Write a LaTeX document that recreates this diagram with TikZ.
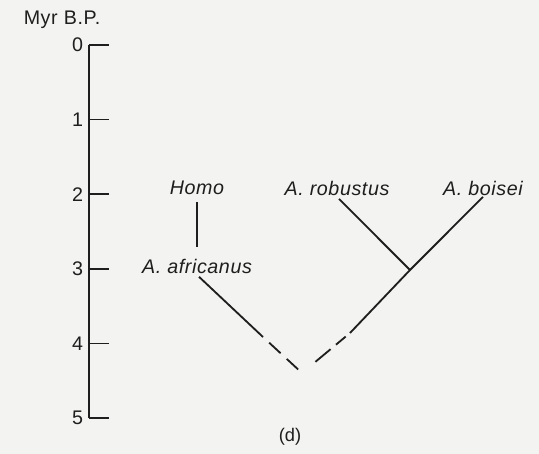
\documentclass[tikz,border=0pt]{standalone}
\usepackage{fontspec}
\setmainfont{Liberation Sans}
\usepackage{xcolor}
\usepackage{tikz}
\definecolor{paper}{HTML}{F3F3F1}
\definecolor{inkgray}{HTML}{1E1E1E}
\newfontfamily\taxonfont[LetterSpace=3]{Liberation Sans}
\tikzset{
  taxon/.style={font=\taxonfont\fontsize{14}{16}\selectfont\itshape, text=inkgray, inner sep=1pt},
  agelabel/.style={font=\fontsize{14}{16}\selectfont, text=inkgray, anchor=east, inner sep=1pt},
  branch/.style={draw=inkgray, line width=1.3pt},
  guessed/.style={branch, dash pattern=on 11pt off 6pt, dash phase=11pt},
  guessedright/.style={branch, dash pattern=on 0pt off 4pt on 9pt off 5pt on 14pt off 30pt}
}

\begin{document}
\begin{tikzpicture}
    % page and scan background
    \fill[paper] (0,0) rectangle (13.475,-11.35);
    \useasboundingbox (0,0) rectangle (13.475,-11.35);

    % time axis
    \node[font=\taxonfont\fontsize{14}{16}\selectfont, text=inkgray] (unit) at (1.55,-0.5) {Myr B.P.};
    \coordinate (top) at (2.225,-1.125);
    \coordinate (bottom) at (2.225,-10.45);
    \draw[draw=inkgray, line width=1.4pt] (top) -- (bottom);
    \foreach \age in {0,...,5} {
      \coordinate (tick\age) at (2.225,-1.125-1.865*\age);
      \draw[draw=inkgray, line width=1.1pt] (tick\age) -- ++(0.5,0);
      \node[agelabel] (age\age) at ([xshift=-3pt]tick\age) {\age};
    }

    % tree
    \node[taxon] (homo) at (4.925,-4.7) {Homo};
    \node[taxon] (africanus) at (4.925,-6.65) {A. africanus};
    \node[taxon] (robustus) at (8.425,-4.7) {A. robustus};
    \node[taxon] (boisei) at (12.075,-4.7) {A. boisei};
    \coordinate (split) at (10.25,-6.75);
    \coordinate (root) at (7.55,-9.325);
    \coordinate (leftgap) at (6.575,-8.425);
    \coordinate (rightgap) at (8.75,-8.325);

    \draw[branch, shorten <=4pt, shorten >=7pt] (homo.south) -- (africanus.north);
    \draw[branch, shorten <=2pt] (africanus.south) -- (leftgap);
    \draw[guessed] (leftgap) -- (root);
    \draw[branch, shorten <=2pt] (robustus.south) -- (split);
    \draw[branch] (boisei.south) -- (split) -- (rightgap);
    \draw[guessedright] (rightgap) -- (root);

    \node[font=\fontsize{13}{15}\selectfont, text=inkgray] (panel) at (7.25,-10.925) {(d)};
  \end{tikzpicture}
\end{document}
